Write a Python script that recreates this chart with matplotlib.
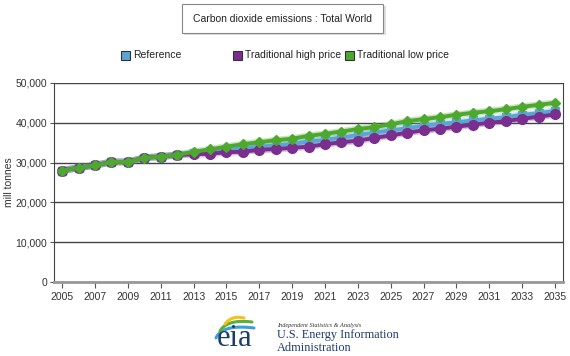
import numpy as np
import matplotlib
matplotlib.use("Agg")
import matplotlib.pyplot as plt
from matplotlib.patches import Rectangle
from matplotlib.ticker import FuncFormatter

plt.rcParams['font.family'] = ['Liberation Sans', 'DejaVu Sans']

# data (million tonnes)
years = list(range(2005, 2036))
reference = [28.0, 28.7, 29.3, 30.15, 30.15, 31.2, 31.5, 31.9, 32.4, 32.8, 33.2,
             33.6, 34.0, 34.3, 34.7, 35.3, 35.7, 36.3, 36.9, 37.5, 38.1,
             38.6, 39.3, 39.7, 40.1, 40.6, 41.0, 41.4, 42.0, 42.4, 43.0]
high_price = [28.0, 28.7, 29.3, 30.15, 30.15, 31.2, 31.5, 31.9, 32.1, 32.2, 32.6,
              32.7, 33.2, 33.4, 33.7, 34.0, 34.6, 35.1, 35.5, 36.2, 36.8,
              37.5, 38.1, 38.5, 39.0, 39.5, 40.0, 40.4, 41.0, 41.5, 42.1]
low_price = [28.0, 28.7, 29.3, 30.15, 30.15, 31.2, 31.5, 31.9, 32.7, 33.3, 34.0,
             34.6, 35.1, 35.6, 36.0, 36.7, 37.2, 37.8, 38.4, 38.9, 39.6,
             40.4, 40.9, 41.4, 42.0, 42.5, 42.9, 43.4, 44.0, 44.5, 45.0]
series_names = ["Reference", "Traditional high price", "Traditional low price"]
x_ticks = list(range(2005, 2036, 2))
y_ticks = [0, 10000, 20000, 30000, 40000, 50000]

blue = "#5BA5D3"
purple = "#7A2E8E"
green = "#4DA82E"

fig = plt.figure(figsize=(5.7, 3.56), dpi=100)
ax = fig.add_axes([0.0947, 0.208, 0.8933, 0.559])

yrs = np.array(years)
for vals, col, mk, ms in [(reference, blue, "s", 6),
                          (high_price, purple, "o", 7),
                          (low_price, green, "D", 5.5)]:
    v = np.array(vals) * 1000
    ax.plot(yrs, v, color=col, lw=5, alpha=0.3, solid_capstyle="round", zorder=3)
    ax.plot(yrs, v, color=col, lw=2.8, marker=mk, markersize=ms,
            markeredgecolor=col, zorder=4)

ax.set_xlim(2004.5, 2035.5)
ax.set_ylim(0, 50000)
ax.set_xticks(x_ticks)
ax.set_yticks(y_ticks)
ax.yaxis.set_major_formatter(FuncFormatter(lambda v, p: "{:,.0f}".format(v)))
ax.grid(axis="y", color="#444444", lw=1)
ax.tick_params(axis="y", length=3, color="#555555", labelsize=7.5, labelcolor="#333333", pad=2)
ax.tick_params(axis="x", length=4, color="#555555", labelsize=7.5, labelcolor="#333333", pad=3)
for s in ["left", "right", "top"]:
    ax.spines[s].set_color("#444444")
ax.spines["top"].set_visible(False)
ax.spines["bottom"].set_color("#999999")
ax.spines["bottom"].set_linewidth(2)
ax.set_ylabel("mill tonnes", fontsize=7.5, color="#333333", labelpad=1)

# title box
shadow = Rectangle((184 / 570, 1 - 35 / 356), 202 / 570, 29 / 356,
                   transform=fig.transFigure, facecolor="#dddddd", edgecolor="none")
fig.patches.append(shadow)
box = Rectangle((182 / 570, 1 - 33 / 356), 201 / 570, 29 / 356,
                transform=fig.transFigure, facecolor="white", edgecolor="#888888", lw=0.8)
fig.patches.append(box)
fig.text(282.5 / 570, 1 - 18.5 / 356, "Carbon dioxide emissions : Total World",
         ha="center", va="center", fontsize=7.5, color="#222222")

# legend
for x0, col, name in [(121, blue, series_names[0]), (233, purple, series_names[1]),
                      (345, green, series_names[2])]:
    fig.patches.append(Rectangle((x0 / 570, 1 - 59.5 / 356), 9 / 570, 9 / 356,
                                 transform=fig.transFigure, facecolor=col,
                                 edgecolor="#333333", lw=0.8))
    fig.text((x0 + 12) / 570, 1 - 55 / 356, name, ha="left", va="center",
             fontsize=7.5, color="#222222")

# eia logo
lax = fig.add_axes([205 / 570, 0, 60 / 570, 45 / 356])
lax.set_xlim(0, 60)
lax.set_ylim(0, 45)
lax.axis("off")
t = np.linspace(0, 1, 30)
for p0, p1, p2, col in [((11, 18), (17, 32), (49, 28), "#3C9FD8"),
                        ((15, 25), (22, 37), (47, 34), "#5DAE3A"),
                        ((20, 32), (27, 41), (39, 38), "#F2C318")]:
    bx = (1 - t) ** 2 * p0[0] + 2 * (1 - t) * t * p1[0] + t ** 2 * p2[0]
    by = (1 - t) ** 2 * p0[1] + 2 * (1 - t) * t * p1[1] + t ** 2 * p2[1]
    lax.plot(bx, by, color=col, lw=2.2, solid_capstyle="round")
lax.text(30, 3, "eia", ha="center", va="bottom", fontsize=22,
         family="Liberation Serif", color="#1d3c6e")
fig.text(277 / 570, 1 - 325 / 356, "Independent Statistics & Analysis", fontsize=4.5,
         family="Liberation Serif", style="italic", color="#333333", va="center")
fig.text(277 / 570, 1 - 335 / 356, "U.S. Energy Information", fontsize=8.8,
         family="Liberation Serif", color="#1d3c6e", va="center")
fig.text(277 / 570, 1 - 348 / 356, "Administration", fontsize=8.8,
         family="Liberation Serif", color="#1d3c6e", va="center")

fig.savefig("out.png", dpi=100, facecolor="white")
